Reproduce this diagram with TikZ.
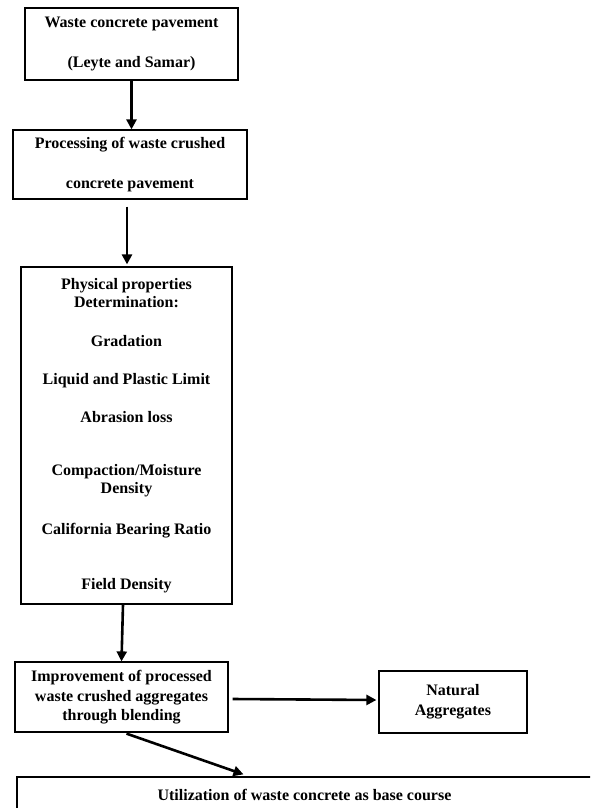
\documentclass[tikz,border=0pt]{standalone}
\usepackage{fontspec}
\setmainfont{Liberation Serif}
\usetikzlibrary{positioning,arrows.meta,calc}
\tikzset{
  fig/.style={x=1pt,y=-1pt},
  box/.style={draw,line width=1.2pt,align=center,inner sep=0pt,
              font=\fontsize{16}{18}\selectfont\bfseries},
  ln/.style={-{Triangle[length=10pt,width=10pt]},line width=2.6pt},
}
\begin{document}
\begin{tikzpicture}[fig]
\useasboundingbox (0,0) rectangle (590,808);
\clip (0,0) rectangle (590,808);

% =======================  main column  =====================
\node[box,minimum width=213pt,minimum height=72pt] (waste) at (131.5,44)
     {Waste concrete pavement\\[22pt](Leyte and Samar)};
\node[box,minimum width=234pt,minimum height=69pt] (proc) at (130,164.5)
     {Processing of waste crushed\\[22pt]concrete pavement};
\node[box,minimum width=211pt,minimum height=337pt] (props) at (126.5,435.5)
     {Physical properties\\Determination:\\[21pt]
      Gradation\\[20pt]
      Liquid and Plastic Limit\\[20pt]
      Abrasion loss\\[35pt]
      Compaction/Moisture\\Density\\[23pt]
      California Bearing Ratio\\[37pt]
      Field Density};
\node[box,minimum width=213pt,minimum height=70pt] (blend) at (121.5,697)
     {Improvement of processed\\[1.5pt]waste crushed aggregates\\[1pt]through blending};

% =======================  side box and result  =====================
\node[box,minimum width=148pt,minimum height=62pt] (natural) at (453,702)
     {Natural\\[2pt]Aggregates};
\node[box,minimum width=575pt,minimum height=36pt] (util) at (304.5,795)
     {Utilization of waste concrete as base course};

\draw[ln] (waste.south) -- (waste.south |- proc.north);
\draw[ln] ($(proc.south)+(-3,7)$) -- ($(props.north)+(0.5,-2)$);
\draw[ln] ($(props.south)+(-3.5,0)$) -- (blend.north);
\draw[ln] ($(blend.east)+(4,2)$) -- ($(natural.west)+(-2,-2)$);
\draw[ln] ($(blend.south)+(5,1)$) -- ($(util.north)+(-61,-2)$);

\end{tikzpicture}
\end{document}
